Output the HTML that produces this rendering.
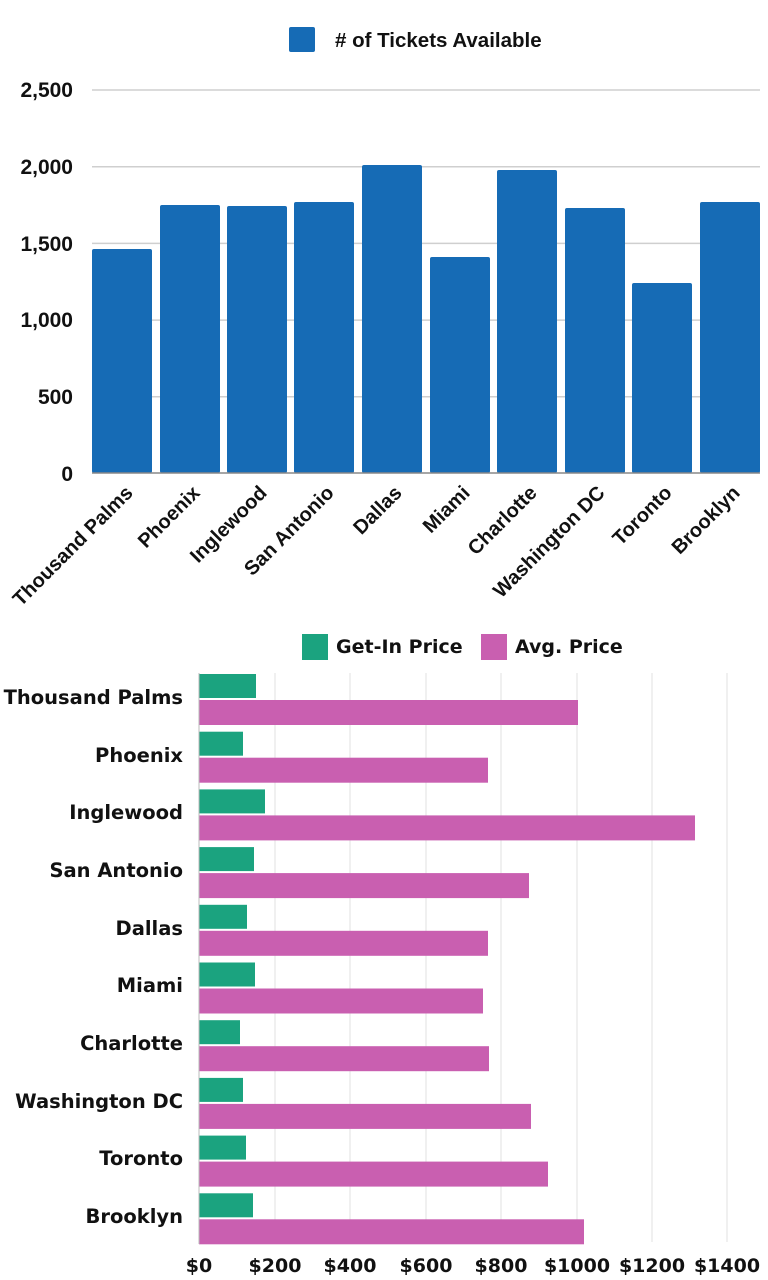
<!DOCTYPE html>
<html><head><meta charset="utf-8"><style>
html,body{margin:0;padding:0;background:#fff;}
svg{display:block;}
.t{font-family:"Liberation Sans",sans-serif;font-weight:bold;fill:#111;}
.o{font-family:"DejaVu Sans","Liberation Sans",sans-serif;font-weight:bold;fill:#111;}
</style></head><body>
<svg width="768" height="1280" viewBox="0 0 768 1280" xmlns="http://www.w3.org/2000/svg">
<rect x="289" y="27" width="26" height="25" rx="2" fill="#166bb5"/>
<text class="t" x="335" y="47" font-size="20.5">&#35; of Tickets Available</text>
<g stroke="#cfcfcf" stroke-width="1.5">
<line x1="92" y1="90" x2="760" y2="90"/>
<line x1="92" y1="166.7" x2="760" y2="166.7"/>
<line x1="92" y1="243.4" x2="760" y2="243.4"/>
<line x1="92" y1="320.1" x2="760" y2="320.1"/>
<line x1="92" y1="396.8" x2="760" y2="396.8"/>
</g>
<g class="t" font-size="21" text-anchor="end">
<text x="73" y="97">2,500</text>
<text x="73" y="174">2,000</text>
<text x="73" y="251">1,500</text>
<text x="73" y="327">1,000</text>
<text x="73" y="404">500</text>
<text x="73" y="481">0</text>
</g>
<g fill="#166bb5">
<rect x="92" y="249" width="60" height="224" rx="2"/>
<rect x="160" y="205" width="60" height="268" rx="2"/>
<rect x="227" y="206" width="60" height="267" rx="2"/>
<rect x="294" y="202" width="60" height="271" rx="2"/>
<rect x="362" y="165" width="60" height="308" rx="2"/>
<rect x="430" y="257" width="60" height="216" rx="2"/>
<rect x="497" y="170" width="60" height="303" rx="2"/>
<rect x="565" y="208" width="60" height="265" rx="2"/>
<rect x="632" y="283" width="60" height="190" rx="2"/>
<rect x="700" y="202" width="60" height="271" rx="2"/>
</g>
<line x1="92" y1="473" x2="760" y2="473" stroke="#888" stroke-width="1.5"/>
<g class="t" font-size="20" text-anchor="end">
<text transform="translate(134,494) rotate(-45)">Thousand Palms</text>
<text transform="translate(201,494) rotate(-45)">Phoenix</text>
<text transform="translate(268,494) rotate(-45)">Inglewood</text>
<text transform="translate(335,494) rotate(-45)">San Antonio</text>
<text transform="translate(403,494) rotate(-45)">Dallas</text>
<text transform="translate(471,494) rotate(-45)">Miami</text>
<text transform="translate(538,494) rotate(-45)">Charlotte</text>
<text transform="translate(606,494) rotate(-45)">Washington DC</text>
<text transform="translate(673,494) rotate(-45)">Toronto</text>
<text transform="translate(741,494) rotate(-45)">Brooklyn</text>
</g>
<rect x="302" y="634" width="26" height="26" fill="#1ba37f"/>
<text class="o" x="336" y="653" font-size="19">Get-In Price</text>
<rect x="481" y="634" width="26" height="26" fill="#c95fb0"/>
<text class="o" x="515" y="653" font-size="19">Avg. Price</text>
<g stroke="#e2e2e2" stroke-width="1">
<line x1="275" y1="673" x2="275" y2="1242"/>
<line x1="350" y1="673" x2="350" y2="1242"/>
<line x1="426" y1="673" x2="426" y2="1242"/>
<line x1="501" y1="673" x2="501" y2="1242"/>
<line x1="577" y1="673" x2="577" y2="1242"/>
<line x1="652" y1="673" x2="652" y2="1242"/>
<line x1="727" y1="673" x2="727" y2="1242"/>
</g>
<g fill="#1ba37f">
<rect x="199" y="674" width="57" height="24"/>
<rect x="199" y="731.7" width="44" height="24"/>
<rect x="199" y="789.4" width="66" height="24"/>
<rect x="199" y="847.1" width="55" height="24"/>
<rect x="199" y="904.8" width="48" height="24"/>
<rect x="199" y="962.5" width="56" height="24"/>
<rect x="199" y="1020.2" width="41" height="24"/>
<rect x="199" y="1077.9" width="44" height="24"/>
<rect x="199" y="1135.6" width="47" height="24"/>
<rect x="199" y="1193.3" width="54" height="24"/>
</g>
<g fill="#c95fb0">
<rect x="199" y="700" width="379" height="25"/>
<rect x="199" y="757.7" width="289" height="25"/>
<rect x="199" y="815.4" width="496" height="25"/>
<rect x="199" y="873.1" width="330" height="25"/>
<rect x="199" y="930.8" width="289" height="25"/>
<rect x="199" y="988.5" width="284" height="25"/>
<rect x="199" y="1046.2" width="290" height="25"/>
<rect x="199" y="1103.9" width="332" height="25"/>
<rect x="199" y="1161.6" width="349" height="25"/>
<rect x="199" y="1219.3" width="385" height="25"/>
</g>
<line x1="199" y1="673" x2="199" y2="1244" stroke="#bbb" stroke-width="1"/>
<g class="o" font-size="19.5" text-anchor="end">
<text x="183" y="704">Thousand Palms</text>
<text x="183" y="762">Phoenix</text>
<text x="183" y="819">Inglewood</text>
<text x="183" y="877">San Antonio</text>
<text x="183" y="935">Dallas</text>
<text x="183" y="992">Miami</text>
<text x="183" y="1050">Charlotte</text>
<text x="183" y="1108">Washington DC</text>
<text x="183" y="1165">Toronto</text>
<text x="183" y="1223">Brooklyn</text>
</g>
<g class="o" font-size="19" text-anchor="middle">
<text x="199" y="1272">$0</text>
<text x="275" y="1272">$200</text>
<text x="350" y="1272">$400</text>
<text x="426" y="1272">$600</text>
<text x="501" y="1272">$800</text>
<text x="577" y="1272">$1000</text>
<text x="652" y="1272">$1200</text>
<text x="727" y="1272">$1400</text>
</g>
</svg>
</body></html>
